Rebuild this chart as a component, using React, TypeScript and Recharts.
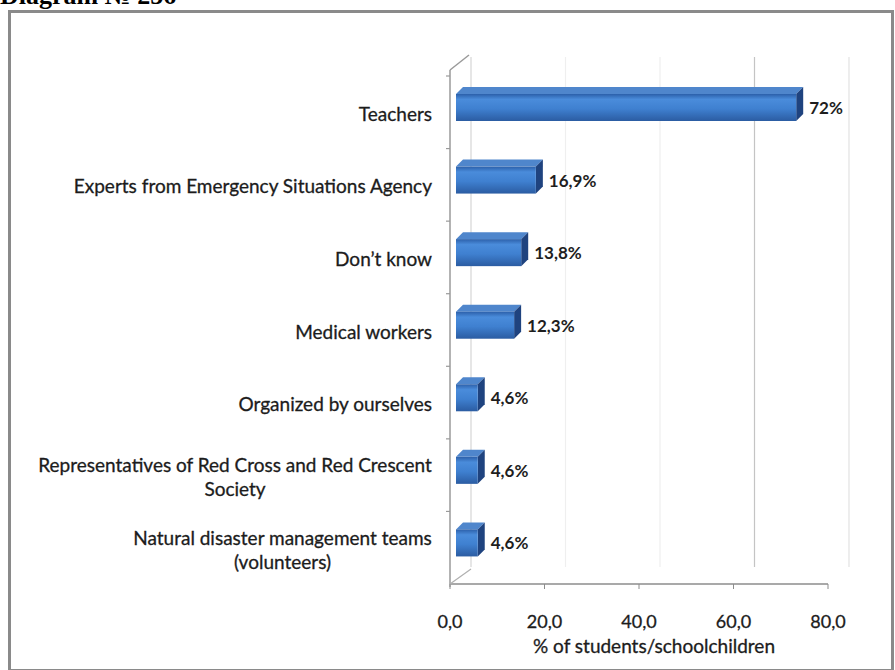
import { BarChart, Bar, XAxis, YAxis, CartesianGrid, LabelList, Label } from 'recharts'

const categories = [
  'Teachers',
  'Experts from Emergency Situations Agency',
  'Don’t know',
  'Medical workers',
  'Organized by ourselves',
  'Representatives of Red Cross and Red Crescent\nSociety',
  'Natural disaster management teams\n(volunteers)',
]
const shares = [72, 16.9, 13.8, 12.3, 4.6, 4.6, 4.6]
const xTicks = [0, 20, 40, 60, 80]

const data = categories.map((name, i) => ({ name, value: shares[i] }))

const FONT = "Lato, 'Open Sans', sans-serif"
const W = 895
const H = 670
const PLOT_LEFT = 450
const PLOT_TOP = 76
const PLOT_RIGHT = 828
const PLOT_BOTTOM = 584
// 3D look: back wall offset and bar depth
const WALL_DX = 21
const WALL_DY = 15
const BAR_DEPTH = 7
const BAR_SHIFT_X = 6
const BAR_SHIFT_Y = -8
const BAR_SIZE = 34
const LABEL_SIZE = 19

// faint gridlines, the 60 one shows up stronger in the scan
const gridStrokes = ['#d6d6d6', '#efefef', '#efefef', '#c4c4c4', '#e2e2e2']

const fmtTick = (v: number) => v.toFixed(1).replace('.', ',')
const fmtValue = (v: number) => (Number.isInteger(v) ? `${v}%` : `${v.toFixed(1).replace('.', ',')}%`)

let ctx: CanvasRenderingContext2D | null = null
function measure(text: string, size: number) {
  if (!ctx) ctx = document.createElement('canvas').getContext('2d')
  if (!ctx) return text.length * size * 0.5
  ctx.font = `${size}px Lato`
  return ctx.measureText(text).width
}

function Bar3D(props: any) {
  const { x, y, width, index } = props
  const d = BAR_DEPTH
  const fx = x + BAR_SHIFT_X
  const top = y + BAR_SHIFT_Y
  const fy = top + d
  const fh = BAR_SIZE - d
  const w = Math.max(width, 0)
  const id = `barGrad${index}`
  return (
    <g>
      <defs>
        <linearGradient id={id} x1="0" y1="0" x2="0" y2="1">
          <stop offset="0%" stopColor="#2c60aa" />
          <stop offset="20%" stopColor="#4a8cdb" />
          <stop offset="55%" stopColor="#3f80d0" />
          <stop offset="100%" stopColor="#2b5ca2" />
        </linearGradient>
      </defs>
      <polygon
        points={`${fx},${fy} ${fx + d},${top} ${fx + w + d},${top} ${fx + w},${fy}`}
        fill="#4f86cc"
      />
      <polygon
        points={`${fx + w},${fy} ${fx + w + d},${top} ${fx + w + d},${top + fh} ${fx + w},${fy + fh}`}
        fill="#1f437f"
      />
      <rect x={fx} y={fy} width={w} height={fh} fill={`url(#${id})`} />
    </g>
  )
}

function ValueLabel(props: any) {
  const { x, y, width, value } = props
  const lx = x + BAR_SHIFT_X + width + BAR_DEPTH + 6
  const ly = y + BAR_SHIFT_Y + BAR_DEPTH + (BAR_SIZE - BAR_DEPTH) / 2
  return (
    <text x={lx} y={ly} dominantBaseline="central" fontFamily={FONT} fontSize={17} fontWeight={700} fill="#1e1e1e">
      {fmtValue(value)}
    </text>
  )
}

function CategoryTick(props: any) {
  const { x, y, payload } = props
  const lines: string[] = String(payload.value).split('\n')
  const lh = 24
  const startY = y + 1 - ((lines.length - 1) * lh) / 2
  const common = {
    dominantBaseline: 'central' as const,
    fontFamily: FONT,
    fontSize: LABEL_SIZE,
    fill: '#1c1c1c',
    stroke: '#1c1c1c',
    strokeWidth: 0.3,
  }
  if (lines.length === 1) {
    return (
      <text x={x} y={startY} textAnchor="end" {...common}>
        {lines[0]}
      </text>
    )
  }
  const blockW = Math.max(...lines.map((l) => measure(l, LABEL_SIZE)))
  const cx = x - blockW / 2
  return (
    <text textAnchor="middle" {...common}>
      {lines.map((l, i) => (
        <tspan key={i} x={cx} y={startY + i * lh}>
          {l}
        </tspan>
      ))}
    </text>
  )
}

function GridLine(props: any) {
  const { x1, y1, y2, index } = props
  return (
    <line
      x1={x1 + WALL_DX}
      x2={x1 + WALL_DX}
      y1={y1 - WALL_DY - 4}
      y2={y2 - WALL_DY - 2}
      stroke={gridStrokes[index] ?? '#ddd'}
      strokeWidth={1.2}
    />
  )
}

export default function App() {
  return (
    <div style={{ position: 'absolute', left: 0, top: 0, width: W, height: H, background: '#fff', overflow: 'hidden' }}>
      <div
        style={{
          position: 'absolute',
          left: 0,
          top: -19,
          fontFamily: "'Liberation Serif', 'Times New Roman', serif",
          fontWeight: 700,
          fontSize: 26,
          whiteSpace: 'nowrap',
          color: '#000',
        }}
      >
        Diagram № 256
      </div>
      <div
        style={{
          position: 'absolute',
          left: 8,
          top: 10,
          width: 886,
          height: 662,
          border: '3px solid #8a8a8a',
          boxSizing: 'border-box',
        }}
      />
      <div style={{ position: 'absolute', left: 0, top: 0 }}>
        <BarChart
          width={W}
          height={H}
          data={data}
          layout="vertical"
          margin={{ top: PLOT_TOP, right: W - PLOT_RIGHT, bottom: H - PLOT_BOTTOM - 40, left: 0 }}
          barSize={BAR_SIZE}
        >
          <CartesianGrid horizontal={false} vertical={GridLine} />
          <XAxis
            type="number"
            domain={[0, 80]}
            ticks={xTicks}
            height={40}
            tickFormatter={fmtTick}
            tick={{ fontFamily: FONT, fontSize: 18, fill: '#1c1c1c', stroke: '#1c1c1c', strokeWidth: 0.3 }}
            tickSize={5}
            tickMargin={26}
            axisLine={{ stroke: '#8c8c8c', strokeWidth: 1.5 }}
            tickLine={{ stroke: '#8c8c8c' }}
          >
            <Label
              value="% of students/schoolchildren"
              position="bottom"
              offset={16}
              dx={15}
              style={{ fontFamily: FONT, fontSize: LABEL_SIZE, fill: '#1c1c1c', stroke: '#1c1c1c', strokeWidth: 0.3 }}
            />
          </XAxis>
          <YAxis
            type="category"
            dataKey="name"
            width={PLOT_LEFT}
            axisLine={false}
            tickLine={false}
            tickSize={0}
            tickMargin={18}
            interval={0}
            tick={CategoryTick}
          />
          <Bar dataKey="value" shape={Bar3D} isAnimationActive={false}>
            <LabelList dataKey="value" content={ValueLabel} />
          </Bar>
        </BarChart>
      </div>
      <svg width={W} height={H} style={{ position: 'absolute', left: 0, top: 0, pointerEvents: 'none' }}>
        {/* left wall and floor edges of the 3D frame */}
        <line x1={PLOT_LEFT} y1={PLOT_TOP - 6} x2={PLOT_LEFT} y2={PLOT_BOTTOM + 3} stroke="#9a9a9a" strokeWidth={1.5} />
        <line x1={PLOT_LEFT} y1={PLOT_TOP - 6} x2={PLOT_LEFT + WALL_DX - 2} y2={PLOT_TOP - 6 - WALL_DY} stroke="#9a9a9a" strokeWidth={1.5} />
        <line x1={PLOT_LEFT} y1={PLOT_BOTTOM} x2={PLOT_LEFT + WALL_DX} y2={PLOT_BOTTOM - WALL_DY} stroke="#b0b0b0" strokeWidth={1.2} />
        {categories.map((_, i) => {
          const band = (PLOT_BOTTOM - PLOT_TOP) / categories.length
          const ty = PLOT_TOP + band * i
          return <line key={i} x1={PLOT_LEFT - 4} x2={PLOT_LEFT} y1={ty} y2={ty} stroke="#9a9a9a" strokeWidth={1.2} />
        })}
      </svg>
    </div>
  )
}
